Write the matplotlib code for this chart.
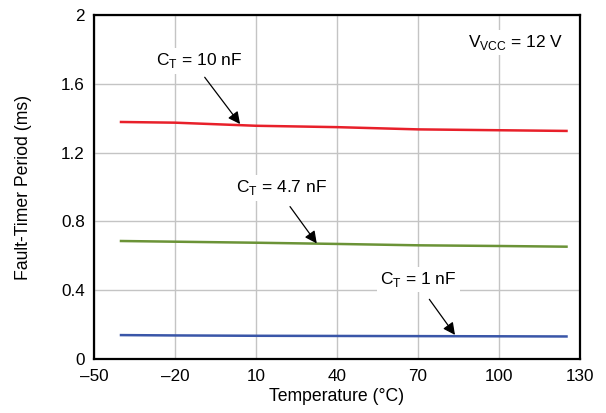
import matplotlib
matplotlib.use("Agg")
import matplotlib.pyplot as plt

plt.rcParams['font.family'] = ['Liberation Sans', 'DejaVu Sans']

# Température (°C) et période du fault-timer (ms)
temp = [-40, -20, 10, 40, 70, 100, 125]
ct_10nf = [1.378, 1.374, 1.356, 1.348, 1.335, 1.330, 1.326]
ct_4p7nf = [0.686, 0.682, 0.676, 0.669, 0.661, 0.657, 0.653]
ct_1nf = [0.139, 0.137, 0.135, 0.134, 0.133, 0.132, 0.131]

x_ticks = [-50, -20, 10, 40, 70, 100, 130]
x_labels = ["\u201350", "\u201320", "10", "40", "70", "100", "130"]
y_ticks = [0, 0.4, 0.8, 1.2, 1.6, 2.0]
y_labels = ["0", "0.4", "0.8", "1.2", "1.6", "2"]

fig = plt.figure(figsize=(6.06, 4.13), dpi=100)
ax = fig.add_axes([94 / 606, 1 - 359 / 413, 486 / 606, 344 / 413])

ax.plot(temp, ct_10nf, color="#e8202a", lw=1.8)
ax.plot(temp, ct_4p7nf, color="#6b9337", lw=1.8)
ax.plot(temp, ct_1nf, color="#3a56a8", lw=1.8)

ax.set_xlim(-50, 130)
ax.set_ylim(0, 2)
ax.set_xticks(x_ticks)
ax.set_xticklabels(x_labels)
ax.set_yticks(y_ticks)
ax.set_yticklabels(y_labels)
ax.tick_params(length=0, labelsize=12.3)
ax.tick_params(axis="x", pad=7.5)
ax.tick_params(axis="y", pad=6.5)
ax.grid(True, color="#c4c4c4", lw=1)
ax.set_axisbelow(True)
for s in ax.spines.values():
    s.set_linewidth(1.6)

ax.set_xlabel("Temperature (\u00b0C)", fontsize=12.7)
ax.xaxis.set_label_coords(0.5, -0.084)
ax.set_ylabel("Fault-Timer Period (ms)", fontsize=12.7)
ax.yaxis.set_label_coords(-0.127, 0.5)

box = dict(boxstyle="square,pad=0.2", fc="white", ec="none")
arrow = dict(arrowstyle="-|>", color="black", lw=0.9, mutation_scale=18,
             shrinkA=0, shrinkB=0)
fs = 12.5

ax.annotate("", xy=(4.1, 1.366), xytext=(-9.0, 1.638), arrowprops=arrow)
ax.text(-11.1, 1.709, "C$_\\mathregular{T}$ = 10 nF", fontsize=fs,
        ha="center", va="baseline", bbox=box)

ax.annotate("", xy=(32.5, 0.672), xytext=(22.6, 0.886), arrowprops=arrow)
ax.text(19.4, 0.969, "C$_\\mathregular{T}$ = 4.7 nF", fontsize=fs,
        ha="center", va="baseline", bbox=box)

ax.annotate("", xy=(83.7, 0.14), xytext=(74.2, 0.347), arrowprops=arrow)
ax.text(70.2, 0.436, "C$_\\mathregular{T}$ = 1 nF", fontsize=fs,
        ha="center", va="baseline", bbox=box)

ax.text(106.1, 1.814, "V$_\\mathregular{VCC}$ = 12 V", fontsize=fs,
        ha="center", va="baseline", bbox=box)

fig.savefig("out.png", dpi=100)
